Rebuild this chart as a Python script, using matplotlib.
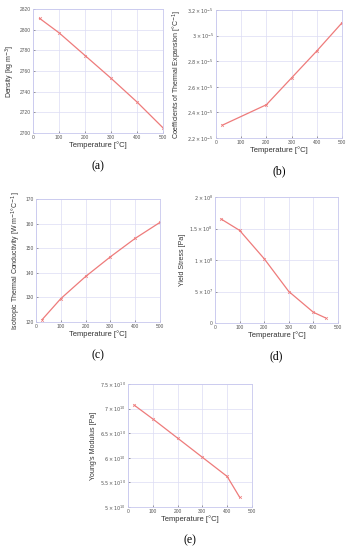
import matplotlib
matplotlib.use("Agg")
import matplotlib.pyplot as plt
from matplotlib.ticker import FixedLocator, FuncFormatter

plt.rcParams['font.family'] = ['Liberation Sans', 'DejaVu Sans']

# data
temp_a = [25, 100, 200, 300, 400, 500]
density = [2811, 2797, 2775, 2753, 2730, 2705]

temp_b = [25, 200, 300, 400, 500]
cte = [2.30e-5, 2.46e-5, 2.67e-5, 2.88e-5, 3.10e-5]

temp_c = [25, 100, 200, 300, 400, 500]
conductivity = [121, 129.5, 138.5, 146.5, 154, 160.5]

temp_d = [25, 100, 200, 300, 400, 450]
yield_stress = [1.65e8, 1.47e8, 1.02e8, 0.50e8, 0.17e8, 0.08e8]

temp_e = [25, 100, 200, 300, 400, 450]
youngs = [7.07e10, 6.79e10, 6.40e10, 6.01e10, 5.62e10, 5.20e10]

W, H = 351, 550
fig = plt.figure(figsize=(W / 100, H / 100), dpi=100)

line_col = '#ee7b7b'
frame_col = '#c8c8ee'
grid_col = '#dcdcf4'
tick_col = '#555555'


def sci(v, exp):
    m = v / 10 ** exp
    if abs(m) < 1e-12:
        return '0'
    s = ('%g' % round(m, 2))
    return r'$%s\times10^{%d}$' % (s, exp)


def make_ax(box, x, y, xlim, ylim, yticks, ylabel, letter, exp=None):
    l, r, t, b = box
    ax = fig.add_axes([l / W, 1 - b / H, (r - l) / W, (b - t) / H])
    ax.plot(x, y, color=line_col, lw=0.9, marker='x', ms=2, mew=0.5)
    ax.set_xlim(*xlim)
    ax.set_ylim(*ylim)
    ax.set_xticks([0, 100, 200, 300, 400, 500])
    ax.yaxis.set_major_locator(FixedLocator(yticks))
    if exp is not None:
        ax.yaxis.set_major_formatter(FuncFormatter(
            lambda v, p: sci(v, exp(v) if callable(exp) else exp)))
    ax.grid(True, color=grid_col, lw=0.5)
    for s in ax.spines.values():
        s.set_color(frame_col)
        s.set_linewidth(0.6)
    ax.tick_params(labelsize=3.5, colors=tick_col, length=1.5, width=0.4,
                   pad=1.5, direction='in')
    ax.set_xlabel('Temperature [°C]', fontsize=5.5, color='#333333', labelpad=1)
    ax.set_ylabel(ylabel, fontsize=5.0, color='#333333', labelpad=2)
    cx = (l + r) / 2
    fig.text(cx / W, 1 - (b + 33) / H, letter, ha='center', va='center',
             fontsize=8.5, family=['Liberation Serif', 'DejaVu Serif'])
    return ax


make_ax((33, 163, 9, 133), temp_a, density, (0, 500), (2700, 2820),
        list(range(2700, 2821, 20)), r'Density [kg m$^{-3}$]', '(a)')

make_ax((216, 342, 10, 138), temp_b, cte, (0, 500), (2.2e-5, 3.2e-5),
        [2.2e-5, 2.4e-5, 2.6e-5, 2.8e-5, 3.0e-5, 3.2e-5],
        r'Coefficients of Thermal Expansion [°C$^{-1}$]', '(b)', exp=-5)

make_ax((36, 160, 199, 322), temp_c, conductivity, (0, 500), (120, 170),
        list(range(120, 171, 10)),
        r'Isotropic Thermal Conductivity [W m$^{-1}$°C$^{-1}$]', '(c)')

make_ax((215, 338, 197, 323), temp_d, yield_stress, (0, 500), (0, 2e8),
        [0, 5e7, 1e8, 1.5e8, 2e8], 'Yield Stress [Pa]', '(d)',
        exp=lambda v: 7 if v < 9e7 else 8)

make_ax((128, 252, 384, 507), temp_e, youngs, (0, 500), (5e10, 7.5e10),
        [5e10, 5.5e10, 6e10, 6.5e10, 7e10, 7.5e10],
        "Young's Modulus [Pa]", '(e)', exp=10)

fig.savefig('out.png', dpi=100)
